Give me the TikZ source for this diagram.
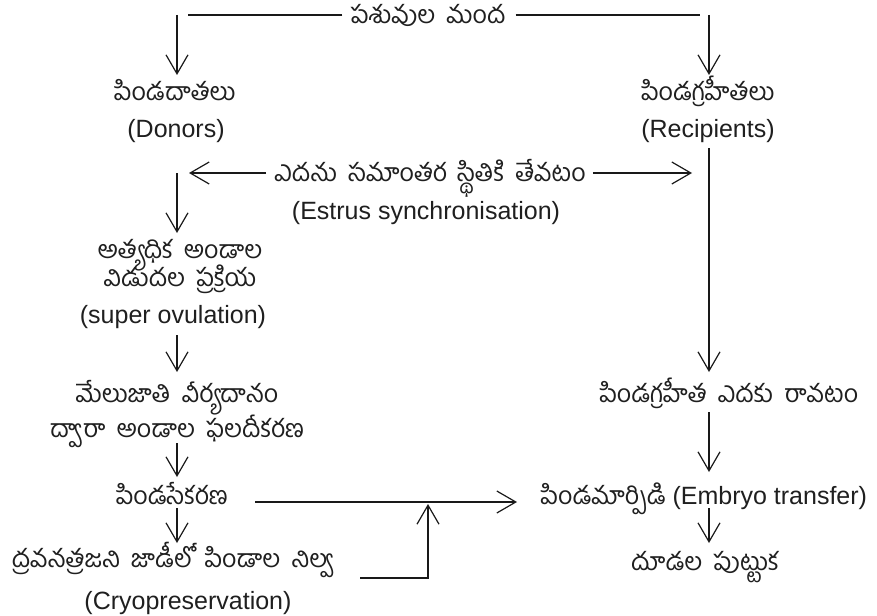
\documentclass[tikz,border=0pt]{standalone}
\usepackage{fontspec}
\setmainfont{Liberation Sans}
\newfontfamily\te[Script=Telugu,WordSpace=1.8]{Hind Guntur}
\usetikzlibrary{arrows.meta}
\begin{document}
\begin{tikzpicture}[x=1pt,y=-1pt,
  lbl/.style={inner sep=0pt, anchor=base, text=black!88, font=\fontsize{25}{30}\selectfont},
  tel/.style={inner sep=0pt, anchor=base, text=black!88, font=\te\fontsize{25}{30}\selectfont},
  ln/.style={line width=1.2pt, black!90},
  arr/.style={ln, -{Straight Barb[length=19pt,width=22pt,line width=1.2pt]}}]
\useasboundingbox (0,0) rectangle (877,615);
% texts
\node[tel] (herd) at (428,24) {పశువుల మంద};
\node[tel] (donTe) at (175,100) {పిండదాతలు};
\node[lbl] (donEn) at (176,137) {(Donors)};
\node[tel] (recTe) at (708,100) {పిండగ్రహీతలు};
\node[lbl] (recEn) at (708,137) {(Recipients)};
\node[tel] (estTe) at (430,181) {ఎదను సమాంతర స్థితికి తేవటం};
\node[lbl] (estEn) at (426,219) {(Estrus synchronisation)};
\node[tel] (supA) at (180,258) {అత్యధిక అండాల};
\node[tel] (supB) at (180,286) {విడుదల ప్రక్రియ};
\node[lbl] (supEn) at (173,323) {(super ovulation)};
\node[tel] (ferA) at (177,402) {మేలుజాతి వీర్యదానం};
\node[tel] (ferB) at (177,437) {ద్వారా అండాల ఫలదీకరణ};
\node[tel] (coll) at (172,504) {పిండసేకరణ};
\node[tel] (cryTe) at (173,567) {ద్రవనత్రజని జాడీలో పిండాల నిల్వ};
\node[lbl] (cryEn) at (188,609) {(Cryopreservation)};
\node[tel] (heat) at (729,402) {పిండగ్రహీత ఎదకు రావటం};
\node[lbl] (et) at (704,504) {{\te\fontsize{25}{30}\selectfont పిండమార్పిడి} (Embryo transfer)};
\node[tel] (calf) at (705,570) {దూడల పుట్టుక};
% connector points
\coordinate (tl) at (177,15);
\coordinate (tr) at (709,15);
\coordinate (dtop) at (177,75);
\coordinate (rtop) at (709,75);
\coordinate (rlong) at (709,148);
\coordinate (rheat) at (709,372);
\coordinate (lest) at (177,173);
\coordinate (lsup) at (177,233);
\coordinate (lsupE) at (177,335);
\coordinate (lfer) at (177,372);
\coordinate (lferE) at (177,443);
\coordinate (lcol) at (177,477);
\coordinate (lcolE) at (177,508);
\coordinate (lcry) at (177,543);
\coordinate (cryR) at (360,578);
\coordinate (cryC) at (428,578);
\coordinate (cryUp) at (428,504);
\coordinate (collR) at (255,502);
\coordinate (etL) at (517,502);
\coordinate (heatB) at (709,412);
\coordinate (etT) at (709,472);
\coordinate (etB) at (709,508);
\coordinate (calfT) at (709,543);
% connectors
\draw[ln] ([xshift=-8pt]herd.west |- tl) -- ([xshift=11pt]tl);
\draw[ln] ([xshift=10pt]herd.east |- tr) -- ([xshift=-9pt]tr);
\draw[arr] (tl) -- (dtop);
\draw[arr] (tr) -- (rtop);
\draw[arr] (rlong) -- (rheat);
\draw[arr] ([xshift=-8pt]estTe.west |- lest) -- ([xshift=12pt]lest);
\draw[arr] ([xshift=7pt]estTe.east |- lest) -- ([xshift=-17pt]rlong |- lest);
\draw[arr] (lest) -- (lsup);
\draw[arr] (lsupE) -- (lfer);
\draw[arr] (lferE) -- (lcol);
\draw[arr] (collR) -- (etL);
\draw[arr] (lcolE) -- (lcry);
\draw[arr] (cryR) -- (cryC) -- (cryUp);
\draw[arr] (heatB) -- (etT);
\draw[arr] (etB) -- (calfT);
\end{tikzpicture}
\end{document}
